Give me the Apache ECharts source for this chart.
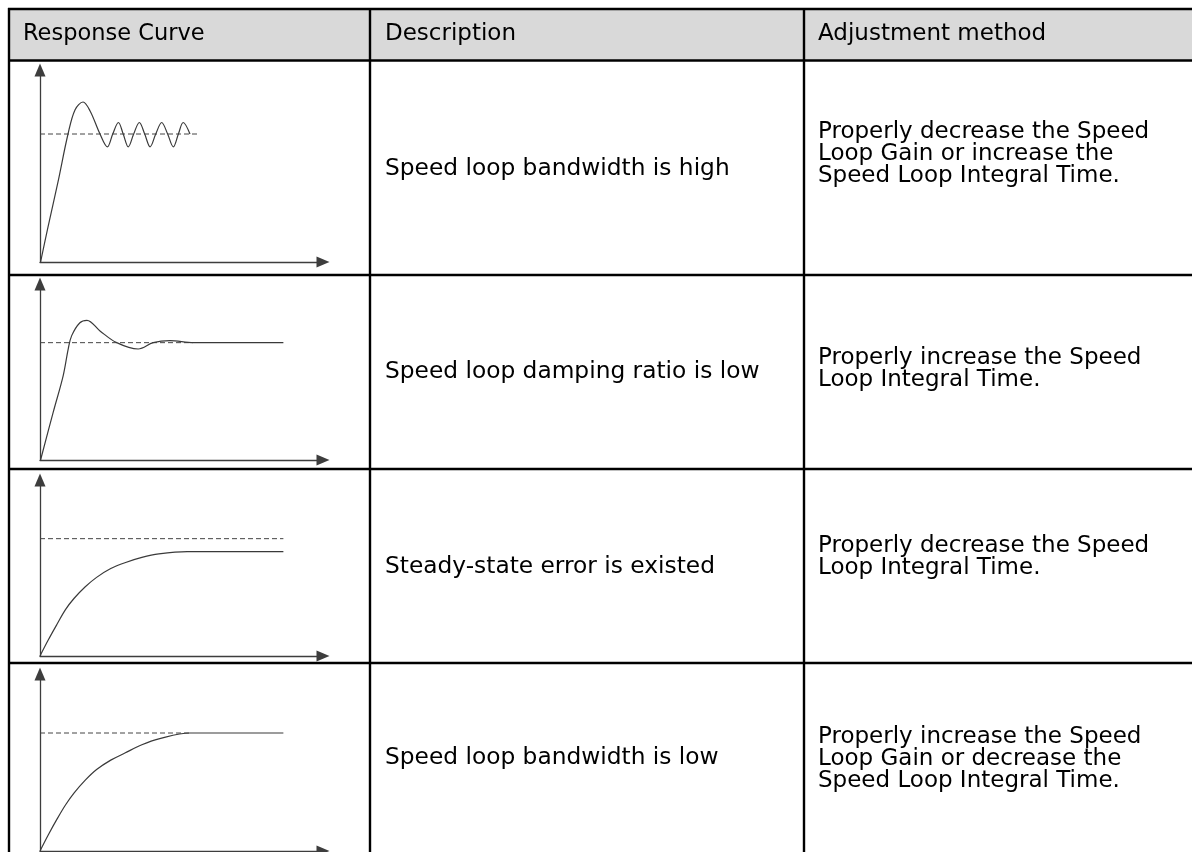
<!DOCTYPE html>
<html><head><meta charset="utf-8">
<script src="https://cdn.jsdelivr.net/npm/echarts@6/dist/echarts.min.js"></script>
<style>html,body{margin:0;padding:0;background:#fff}#c{width:1192px;height:852px}</style>
</head><body><div id="c"></div>
<script>
// ---- data ----
const headers = ['Response Curve', 'Description', 'Adjustment method'];
const descriptions = [
  'Speed loop bandwidth is high',
  'Speed loop damping ratio is low',
  'Steady-state error is existed',
  'Speed loop bandwidth is low'
];
const adjustments = [
  'Properly decrease the Speed\nLoop Gain or increase the\nSpeed Loop Integral Time.',
  'Properly increase the Speed\nLoop Integral Time.',
  'Properly decrease the Speed\nLoop Integral Time.',
  'Properly increase the Speed\nLoop Gain or decrease the\nSpeed Loop Integral Time.'
];
const setpoint = 1;
// curve 1: high bandwidth (sustained oscillation)
const curve1X = [0.2, 2.8, 6.4, 9.9, 12.4, 15.2, 17.7, 21.2, 23.8, 25.7, 27.7, 29.4, 31.2, 33.1, 35.1, 37.0, 38.9, 40.9, 43.0, 45.1, 47.1, 48.9, 50.6, 53.0];
const curve1Y = [0, 0.27, 0.63, 1.0, 1.19, 1.25, 1.18, 1.0, 0.9, 1.0, 1.09, 1.0, 0.9, 1.0, 1.09, 1.0, 0.9, 1.0, 1.09, 1.0, 0.9, 1.0, 1.09, 1.0];
const ref1End = 56;
// curve 2: low damping ratio
const curve2X = [0.2, 4.7, 8.2, 10.0, 11.2, 14.1, 16.6, 21.2, 27.1, 34.7, 40.0, 45.9, 54.2, 86];
const curve2Y = [0, 0.41, 0.72, 0.95, 1.06, 1.17, 1.19, 1.10, 1.0, 0.946, 1.0, 1.017, 1.0, 1.0];
const ref2End = 54;
// curve 3: steady-state error
const curve3X = [0, 3, 6, 9, 12, 16, 20, 25, 30, 36, 42, 52, 86];
const curve3Y = [0, 0.14, 0.27, 0.395, 0.49, 0.59, 0.67, 0.745, 0.795, 0.84, 0.87, 0.89, 0.89];
const ref3End = 86;
// curve 4: low bandwidth
const curve4X = [0, 3, 6, 9, 12, 16, 20, 25, 30, 36, 42, 53, 86];
const curve4Y = [0, 0.14, 0.27, 0.39, 0.49, 0.6, 0.69, 0.77, 0.83, 0.9, 0.95, 1.0, 1.0];
const ref4End = 53;

// ---- layout ----
const curves = [[curve1X, curve1Y, ref1End], [curve2X, curve2Y, ref2End], [curve3X, curve3Y, ref3End], [curve4X, curve4Y, ref4End]];
const gridBoxes = [
  {left: 40, top: 70, width: 283, height: 192},
  {left: 40, top: 284, width: 283, height: 176},
  {left: 40, top: 480, width: 283, height: 176},
  {left: 40, top: 674, width: 283, height: 177}
];
const rowBottoms = [275, 469, 663];
const descY = [169, 372, 567, 758];
const adjY = [154, 369, 557, 759];
const AX = '#3d3d3d';
const FONT = "'DejaVu Sans', sans-serif";

const axisLine = {show: true, symbol: ['none', 'triangle'], symbolSize: [11, 13], lineStyle: {color: AX, width: 1.3}};
const grid = [], xAxis = [], yAxis = [], series = [];
curves.forEach(function (c, i) {
  grid.push(Object.assign({}, gridBoxes[i]));
  xAxis.push({type: 'value', gridIndex: i, min: 0, max: 100, axisLine: axisLine, axisTick: {show: false}, axisLabel: {show: false}, splitLine: {show: false}});
  yAxis.push({type: 'value', gridIndex: i, min: 0, max: 1.5, axisLine: axisLine, axisTick: {show: false}, axisLabel: {show: false}, splitLine: {show: false}});
  series.push({
    type: 'line', xAxisIndex: i, yAxisIndex: i, symbol: 'none', silent: true,
    data: [[0, setpoint], [c[2], setpoint]],
    lineStyle: {color: '#444', width: 1, type: [5, 3]}, z: 2
  });
  series.push({
    type: 'line', xAxisIndex: i, yAxisIndex: i, symbol: 'none', silent: true, smooth: 0.35,
    data: c[0].map(function (x, k) { return [x, c[1][k]]; }),
    lineStyle: {color: '#3a3a3a', width: 1.2}, z: 3
  });
});

const graphic = [];
function rect(x, y, w, h, fill, z) { graphic.push({type: 'rect', shape: {x: x, y: y, width: w, height: h}, style: {fill: fill}, z: z || 10, silent: true}); }
// header band
rect(9, 9, 1183, 51, '#d9d9d9', 1);
// borders
rect(8, 7.8, 1184, 2.4, '#000');
rect(8, 59.3, 1184, 2.4, '#000');
rect(7.8, 8, 2.4, 844, '#000');
rect(368.8, 8, 2.4, 844, '#000');
rect(802.8, 8, 2.4, 844, '#000');
rowBottoms.forEach(function (y) { rect(8, y - 1.2, 1184, 2.4, '#000'); });
// header texts
const colX = [23, 385, 818];
const headerSize = [22.5, 23, 23];
headers.forEach(function (h, i) {
  graphic.push({type: 'text', x: colX[i], y: 34, style: {text: h, font: headerSize[i] + 'px ' + FONT, fill: '#000', textVerticalAlign: 'middle'}, z: 20});
});
descriptions.forEach(function (d, i) {
  graphic.push({type: 'text', x: 385, y: descY[i], style: {text: d, font: '23.3px ' + FONT, fill: '#000', textVerticalAlign: 'middle'}, z: 20});
});
adjustments.forEach(function (d, i) {
  graphic.push({type: 'text', x: 818, y: adjY[i], style: {text: d, font: '23px ' + FONT, lineHeight: 22, fill: '#000', textVerticalAlign: 'middle'}, z: 20});
});

const chart = echarts.init(document.getElementById('c'), null, {renderer: 'canvas'});
chart.setOption({animation: false, grid: grid, xAxis: xAxis, yAxis: yAxis, series: series, graphic: graphic});
</script>
</body></html>
